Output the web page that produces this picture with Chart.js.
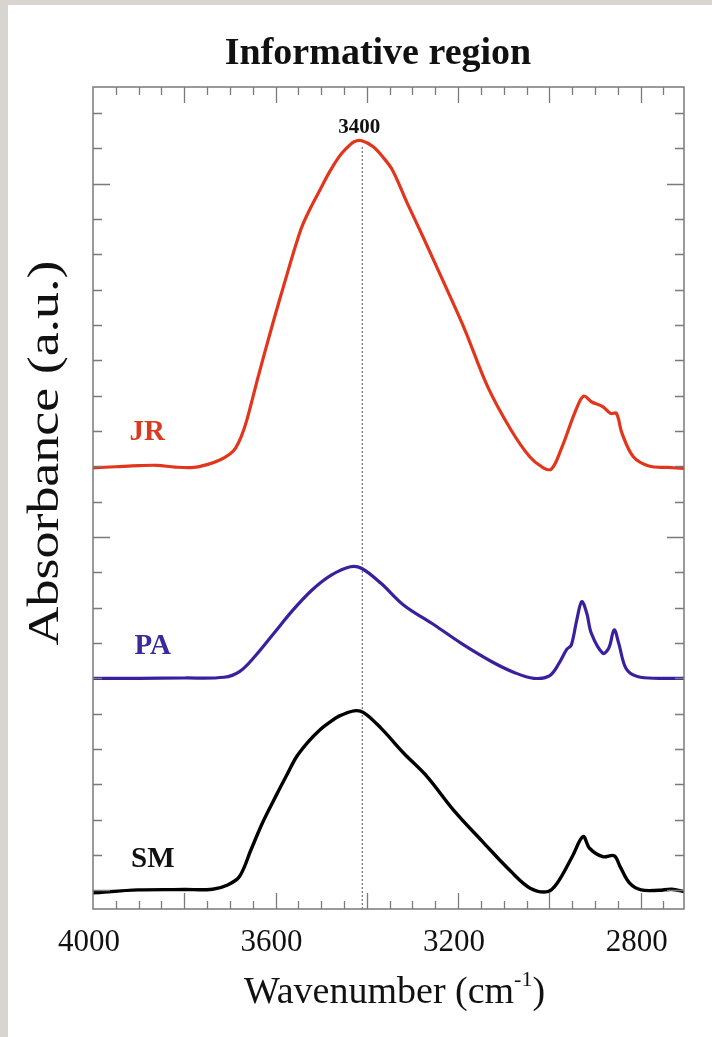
<!DOCTYPE html>
<html>
<head>
<meta charset="utf-8">
<script src="https://cdn.jsdelivr.net/npm/chart.js@4"></script>
<style>
  html, body { margin: 0; padding: 0; background: #d8d5d0; width: 712px; height: 1037px; overflow: hidden; }
  #sheet { position: absolute; left: 8px; top: 5px; right: 0; bottom: 0; background: #ffffff; }
  #c { position: absolute; left: 0; top: 0; }
</style>
</head>
<body>
<div id="sheet"></div>
<canvas id="c" width="712" height="1037"></canvas>
<script>
// ---- data ----
const jrWavenumber = [4000, 3950, 3900, 3860, 3820, 3780, 3750, 3722, 3700, 3688, 3675, 3663, 3638, 3612, 3587, 3545, 3524, 3503, 3482, 3461, 3445, 3428, 3411, 3386, 3365, 3344, 3311, 3277, 3227, 3185, 3135, 3084, 3043, 3017, 2996, 2975, 2942, 2925, 2908, 2883, 2866, 2853, 2841, 2816, 2782, 2740, 2705];
const jrAbsorbance = [11.96, 11.99, 12.02, 12.03, 11.98, 11.97, 12.05, 12.18, 12.35, 12.51, 12.85, 13.31, 14.54, 15.77, 16.9, 18.69, 19.3, 19.82, 20.33, 20.76, 21.0, 21.19, 21.22, 21.05, 20.76, 20.39, 19.44, 18.5, 17.08, 15.86, 14.25, 13.03, 12.27, 11.99, 11.92, 12.46, 13.59, 13.99, 13.83, 13.69, 13.5, 13.5, 12.94, 12.27, 12.01, 11.97, 11.94];

const paWavenumber = [4000, 3900, 3800, 3713, 3679, 3646, 3604, 3562, 3520, 3478, 3436, 3411, 3369, 3319, 3252, 3193, 3126, 3076, 3034, 3000, 2979, 2962, 2952, 2940, 2929, 2918, 2908, 2883, 2870, 2858, 2848, 2832, 2807, 2760, 2705];
const paAbsorbance = [6.0, 6.0, 6.01, 6.03, 6.19, 6.61, 7.27, 7.93, 8.5, 8.92, 9.16, 9.11, 8.69, 8.07, 7.51, 6.99, 6.47, 6.16, 6.0, 6.07, 6.42, 6.82, 6.94, 7.65, 8.17, 7.84, 7.27, 6.71, 6.85, 7.37, 6.99, 6.28, 6.05, 6.0, 6.0];

const smWavenumber = [4000, 3900, 3800, 3738, 3705, 3679, 3654, 3629, 3596, 3575, 3554, 3528, 3503, 3482, 3461, 3428, 3407, 3369, 3319, 3268, 3210, 3143, 3084, 3042, 3004, 2983, 2950, 2926, 2912, 2883, 2858, 2845, 2824, 2799, 2760, 2732, 2705];
const smAbsorbance = [-0.07, 0.01, 0.02, 0.03, 0.15, 0.39, 1.14, 1.9, 2.75, 3.27, 3.78, 4.21, 4.54, 4.75, 4.93, 5.08, 5.03, 4.59, 3.88, 3.22, 2.27, 1.33, 0.53, 0.06, -0.04, 0.2, 0.95, 1.52, 1.19, 0.95, 0.98, 0.67, 0.2, 0.01, 0.0, 0.03, -0.04];

const seriesNames = ['JR', 'PA', 'SM'];
const seriesLabelWavenumber = [3881, 3869, 3869];
const seriesLabelAbsorbance = [12.97, 6.9, 0.86];

const markerWavenumber = 3410;
const markerText = '3400';
const markerRange = [-0.53, 21.1];
const markerLabelAbsorbance = 21.6;

const xTickLabels = [4000, 3600, 3200, 2800];
const xMinorTicks = [];
for (let v = 2750; v <= 3950; v += 50) xMinorTicks.push(v);
const xMajorTicks = [3800, 3600, 3400, 3200, 3000, 2800];
const yMinorTicks = [];
for (let v = 0; v <= 22; v += 1) yMinorTicks.push(v);
const yMajorTicks = [0, 10, 20];

const xRange = [2705, 4000];
const yRange = [-0.53, 22.74];

const titleText = 'Informative region';
const yTitleText = 'Absorbance (a.u.)';
const xTitleText = ['Wavenumber (cm', '-1', ')'];

// ---- styles ----
const colors = { JR: '#e2351c', PA: '#3b209e', SM: '#000000' };
const labelColors = { JR: '#d93a20', PA: '#3a2a9a', SM: '#111111' };
const serif = '"Liberation Serif", "Times New Roman", serif';

function toPoints(xs, ys) { return xs.map((x, i) => ({ x: x, y: ys[i] })); }

const decor = {
  id: 'decor',
  afterDatasetsDraw(chart) {
    const { ctx, chartArea: a, scales: { x, y } } = chart;
    ctx.save();
    // frame
    ctx.strokeStyle = '#7a7a7a';
    ctx.lineWidth = 1.5;
    ctx.strokeRect(a.left, a.top, a.right - a.left, a.bottom - a.top);
    // inward ticks
    ctx.beginPath();
    ctx.lineWidth = 1.3;
    xMinorTicks.forEach(v => {
      const px = Math.round(x.getPixelForValue(v)) + 0.5;
      const len = xMajorTicks.includes(v) ? 16 : 8;
      ctx.moveTo(px, a.top); ctx.lineTo(px, a.top + len);
      ctx.moveTo(px, a.bottom); ctx.lineTo(px, a.bottom - len);
    });
    yMinorTicks.forEach(v => {
      const py = Math.round(y.getPixelForValue(v)) + 0.5;
      const len = yMajorTicks.includes(v) ? 17 : 9;
      ctx.moveTo(a.left, py); ctx.lineTo(a.left + len, py);
      ctx.moveTo(a.right, py); ctx.lineTo(a.right - len, py);
    });
    ctx.stroke();

    // title
    ctx.fillStyle = '#111';
    ctx.font = 'bold 38px ' + serif;
    ctx.textAlign = 'center';
    ctx.textBaseline = 'alphabetic';
    ctx.fillText(titleText, 378, 64);

    // series labels
    ctx.font = 'bold 29px ' + serif;
    ctx.textAlign = 'center';
    ctx.textBaseline = 'middle';
    seriesNames.forEach((n, i) => {
      ctx.fillStyle = labelColors[n];
      ctx.fillText(n, x.getPixelForValue(seriesLabelWavenumber[i]), y.getPixelForValue(seriesLabelAbsorbance[i]));
    });
    // marker label
    ctx.fillStyle = '#111';
    ctx.font = 'bold 21px ' + serif;
    ctx.fillText(markerText, x.getPixelForValue(markerWavenumber) - 3, y.getPixelForValue(markerLabelAbsorbance));

    // y axis title (slightly elongated like the reference)
    ctx.save();
    ctx.translate(46, 453);
    ctx.rotate(-Math.PI / 2);
    ctx.font = '44px ' + serif;
    const yw = ctx.measureText(yTitleText).width;
    ctx.scale(385 / yw, 1);
    ctx.fillStyle = '#111';
    ctx.textAlign = 'center';
    ctx.textBaseline = 'middle';
    ctx.fillText(yTitleText, 0, 0);
    ctx.restore();

    // x axis title with superscript
    const big = '38px ' + serif, small = '22px ' + serif;
    ctx.font = big;
    const w1 = ctx.measureText(xTitleText[0]).width;
    const w3 = ctx.measureText(xTitleText[2]).width;
    ctx.font = small;
    const w2 = ctx.measureText(xTitleText[1]).width;
    const total = w1 + w2 + w3;
    let sx = (a.left + a.right) / 2 + 6 - total / 2;
    const base = 1003;
    ctx.textAlign = 'left';
    ctx.textBaseline = 'alphabetic';
    ctx.fillStyle = '#111';
    ctx.font = big; ctx.fillText(xTitleText[0], sx, base); sx += w1;
    ctx.font = small; ctx.fillText(xTitleText[1], sx, base - 17); sx += w2;
    ctx.font = big; ctx.fillText(xTitleText[2], sx, base);
    ctx.restore();
  }
};

new Chart(document.getElementById('c'), {
  type: 'line',
  data: {
    datasets: [
      { label: 'JR', data: toPoints(jrWavenumber, jrAbsorbance), borderColor: colors.JR, borderWidth: 3.2, pointRadius: 0, tension: 0.35, fill: false },
      { label: 'PA', data: toPoints(paWavenumber, paAbsorbance), borderColor: colors.PA, borderWidth: 3.2, pointRadius: 0, tension: 0.35, fill: false },
      { label: 'SM', data: toPoints(smWavenumber, smAbsorbance), borderColor: colors.SM, borderWidth: 3.4, pointRadius: 0, tension: 0.35, fill: false },
      { label: 'marker', data: [{ x: markerWavenumber, y: markerRange[0] }, { x: markerWavenumber, y: markerRange[1] }], borderColor: '#555', borderWidth: 1, borderDash: [2, 2], pointRadius: 0, tension: 0, fill: false }
    ]
  },
  options: {
    responsive: false,
    animation: false,
    devicePixelRatio: 1,
    layout: { padding: { top: 87, right: 28, left: 0, bottom: 0 } },
    plugins: {
      legend: { display: false },
      tooltip: { enabled: false },
      title: { display: false }
    },
    scales: {
      x: {
        type: 'linear',
        reverse: true,
        min: xRange[0],
        max: xRange[1],
        grid: { display: false, drawTicks: false },
        border: { display: false },
        ticks: { color: '#111', padding: 15, labelOffset: -4, maxRotation: 0, font: { family: serif, size: 31 }, callback: v => String(v) },
        afterBuildTicks(scale) { scale.ticks = xTickLabels.map(v => ({ value: v })); },
        afterFit(scale) { scale.height = 128; }
      },
      y: {
        type: 'linear',
        min: yRange[0],
        max: yRange[1],
        grid: { display: false, drawTicks: false },
        border: { display: false },
        ticks: { display: false },
        afterFit(scale) { scale.width = 93; }
      }
    }
  },
  plugins: [decor]
});
</script>
</body>
</html>
